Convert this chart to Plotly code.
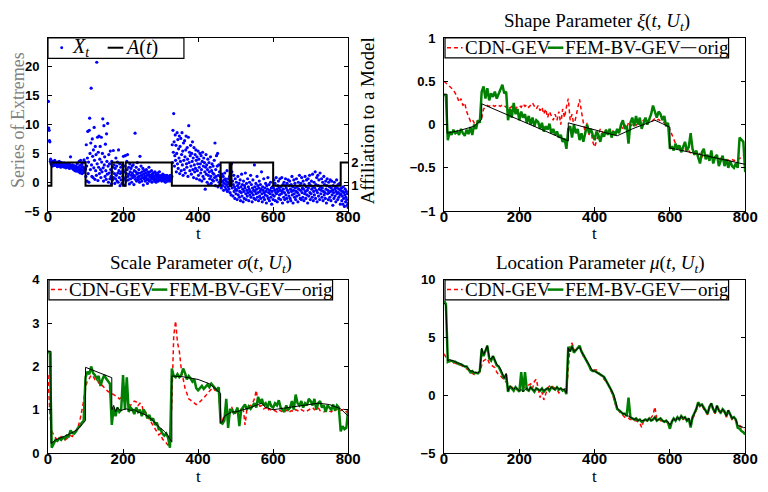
import plotly.graph_objects as go

W, H = 768, 492

# ---------------------------------------------------------------- data
# time index of the extremes series (1..800)
T_SERIES = list(range(1, 801))

# series of extremes X_t
X_T = [
    14.0, 9.4, 9.0, 7.2, 7.0, 3.6, 4.0, 3.2, 3.5, 3.0, 3.4, 2.8, 3.6, 3.1, 3.3, 2.9, 3.5, 3.8, 3.2, 3.0,
    3.4, 2.9, 3.1, 3.3, 2.7, 3.5, 3.0, 2.8, 3.2, 3.6, 3.0, 2.9, 3.3, 2.6, 3.1, 3.4, 2.8, 3.0, 3.2, 2.7,
    3.1, 2.9, 3.3, 2.6, 3.0, 2.8, 3.2, 2.5, 2.9, 3.1, 2.7, 3.0, 2.6, 2.9, 2.8, 3.2, 2.4, 2.7, 3.0, 4.4,
    2.8, 2.5, 2.9, 2.6, 3.0, 2.4, 2.7, 2.2, 2.9, 2.5, 2.6, 2.0, 2.8, 2.3, 2.7, 1.9, 2.5, 3.2, 2.4, 2.1,
    2.6, 1.8, 3.6, 2.2, 2.9, 1.6, 3.8, 2.4, 2.0, 3.1, 1.5, 2.7, 3.4, 2.2, 1.7, 3.9, 2.5, 2.0, 3.5, 2.3,
    1.0, 6.5, 2.8, 0.2, 4.2, 8.8, 1.5, 3.5, 0.0, 9.0, 11.1, 5.0, 2.2, 6.8, 16.3, 3.0, 1.0, 7.5, 4.5, 0.8,
    5.6, 2.5, 9.5, 3.8, 0.5, 6.2, 2.0, 4.8, 1.2, 20.8, 3.2, 7.8, 0.3, 5.2, 2.6, 8.0, 1.5, 4.0, 6.2, 2.2,
    0.8, 7.8, 3.5, 1.8, 5.0, 11.0, 2.5, 0.2, 9.8, 3.0, 4.4, 1.0, 6.6, 2.0, 0.5, 8.4, 3.6, 1.4, 10.2, 2.8,
    0.0, 4.8, 1.6, 3.2, 0.6, 5.4, 2.2, 1.0, -0.3, 3.6, 1.8, 0.4, 2.6, 5.5, 0.8, 3.0, 1.5, -0.2, 2.4, 0.6,
    4.2, 1.2, 2.8, 0.2, 3.5, 1.6, 0.0, 5.6, 2.0, 0.8, 3.2, -0.6, 1.5, 2.6, 0.4, 1.8, -0.2, 3.0, 1.0, 2.2,
    4.5, 0.5, 1.8, -0.5, 2.8, 4.6, 0.8, 0.2, 1.5, 3.6, 2.2, 4.8, 1.0, 0.4, 2.6, 1.4, -0.3, 3.2, 1.8, 0.6,
    2.4, 1.2, 0.0, 2.8, 1.6, 0.8, 3.0, 1.2, -0.4, 2.0, 1.0, 8.5, 0.5, 1.8, 2.6, 0.2, 1.4, 3.4, 0.8, 1.6,
    0.4, 2.2, 1.0, 0.0, 4.5, 1.6, 0.6, 2.8, 1.2, 0.2, 1.8, 0.8, 2.4, -0.5, 1.4, 0.6, 2.0, 1.0, 0.2, 1.6,
    0.8, 2.2, 0.4, 1.2, -0.2, 1.8, 0.6, 1.4, 2.6, 0.2, 1.0, 1.8, 0.4, 1.2, 0.8, 2.0, 0.0, 1.4, 0.6, 1.0,
    1.6, 0.4, 1.0, 0.2, 1.8, 0.6, 1.2, 0.0, 1.4, 0.8, 0.4, 1.6, 1.0, 0.2, 1.2, 0.6, 1.8, 0.8, 0.4, 1.0,
    0.6, 1.2, 0.2, 1.0, 0.8, 1.4, 0.4, 0.8, 1.0, 0.2, 1.2, 0.6, 0.0, 1.0, 0.8, 0.4, 1.2, 0.6, 0.2, 0.8,
    0.4, 1.0, 0.6, 0.8, 0.2, 1.2, 0.4, 0.6, 0.8, 1.0, 6.5, 3.4, 9.0, 5.2, 11.9, 7.0, 2.8, 4.6, 8.2, 3.8,
    6.4, 1.8, 5.0, 8.6, 3.2, 7.4, 2.4, 5.8, 4.2, 8.0, 1.5, 6.2, 3.6, 7.6, 2.0, 4.8, 8.6, 3.0, 5.4, 1.2,
    6.8, 3.8, 2.2, 7.2, 4.4, 1.6, 5.6, 8.0, 3.2, 2.6, 6.0, 4.0, 1.0, 7.8, 9.8, 3.4, 5.2, 2.0, 4.6, 6.4,
    2.8, 1.4, 5.0, 3.6, 7.0, 2.2, 4.2, 0.8, 6.0, 3.0, 1.8, 4.8, 2.4, 5.6, 3.8, 0.6, 4.4, 2.0, 3.2, 5.4,
    1.2, 4.0, 2.6, 0.4, 5.0, 3.2, 1.6, 4.6, 2.2, 0.2, 3.6, 5.2, 1.0, 2.8, 4.2, 0.6, 3.4, 1.8, -1.2, 2.6,
    4.8, 1.4, 3.0, 0.0, 2.2, 4.0, 1.2, -0.4, 3.4, 1.8, 0.6, 2.6, 4.4, 1.0, -0.2, 2.0, 3.2, 0.4, 1.6, 2.8,
    0.2, 1.4, 3.8, 0.8, 6.8, -0.6, 2.2, 1.0, 4.6, 0.4, 2.8, 5.0, -0.8, 1.2, 3.0, 0.0, 1.8, -0.4, 1.0, 0.4,
    0.8, -1.0, 0.2, 1.4, -0.6, 0.0, 1.0, -1.4, 0.4, -0.2, 1.6, -0.8, 0.6, -1.2, 0.2, -0.4, 2.0, -1.6, 0.0, -0.8,
    0.6, -1.2, -0.2, 1.0, -1.8, 0.4, -0.6, -2.2, 3.2, 1.8, -1.0, 0.2, -2.4, -0.4, 1.2, -1.6, -0.8, -2.8, 0.6, -1.2,
    -2.0, 0.0, -1.4, -3.0, -0.6, 1.0, -2.2, -1.0, -0.2, -2.6, -1.6, 0.4, -3.2, -0.8, -1.8, 1.4, -2.4, -0.4, -1.2, -3.4,
    0.2, -1.6, -2.8, -0.6, -1.0, 1.6, -2.0, -3.0, -0.2, -1.4, -2.4, 0.6, -1.8, -0.8, -3.2, -1.2, 0.0, -2.2, -1.6, 1.2,
    -2.6, -0.4, -1.8, -3.4, -1.0, 0.4, -2.2, -1.4, -2.8, 3.0, -0.8, -1.6, -3.0, -0.2, -2.0, -1.2, 1.0, -2.6, -0.6, -1.8,
    -3.2, -1.0, 0.2, -2.4, -1.6, -0.4, -2.8, -1.2, 1.8, -2.0, -3.4, -0.8, -1.4, -2.6, 0.6, -1.8, -3.0, -1.0, -2.2, -0.2,
    -1.6, -3.6, -0.6, -2.4, -1.2, 0.8, -2.8, -1.8, -0.4, -3.2, -1.4, -2.0, 0.0, -2.6, -1.0, -3.8, -1.6, -0.8, -2.2, -3.0,
    -1.0, 0.4, -2.4, -1.4, -0.2, -3.2, -1.8, 0.8, -2.0, -1.2, -3.4, -0.6, -1.6, 0.2, -2.8, -1.0, -2.2, 0.6, -1.4, -3.0,
    -0.8, -2.0, 0.8, -1.6, -3.6, -0.4, -1.2, -2.6, 0.0, -1.8, -3.0, -0.6, 0.6, -2.2, -1.0, -2.8, -0.2, -1.4, -3.4, 0.4,
    -1.8, -2.4, -0.6, 0.2, -2.8, -1.2, -3.2, -0.4, -1.6, 1.0, -2.2, -0.8, -3.6, -1.4, 0.4, -2.0, -2.6, -0.2, -1.0, -3.0,
    -1.6, 0.6, -2.4, -0.8, -1.8, -3.4, 0.0, -1.2, -2.2, 1.2, -0.6, -2.8, -1.4, -0.2, -3.0, 0.8, -1.8, -1.0, -2.6, 0.2,
    -1.2, -3.2, -0.4, -2.0, 1.0, -1.6, -2.8, -0.8, 0.4, -2.2, -1.4, -3.6, 0.6, -1.0, -2.4, -0.2, 1.2, -1.8, -3.0, -0.6,
    -2.0, 0.2, -1.2, -2.6, 1.4, -0.8, -3.2, -1.6, 0.0, -2.2, -1.0, 1.8, -2.8, -0.4, -1.4, 0.8, -3.4, -1.8, 1.2, -0.6,
    -2.4, 0.4, -1.2, -3.0, 1.6, -0.8, -2.0, -1.4, 0.6, -2.6, -1.0, 0.0, -3.2, -1.6, 1.0, -2.2, -0.4, -1.8, -2.8, 0.2,
    -1.2, -3.6, -0.6, 0.6, -2.0, -1.4, -3.0, 0.0, -1.8, -0.8, -2.6, 0.4, -1.6, -3.2, -1.0, 0.2, -2.2, -1.4, -4.0, -0.6,
    -1.8, -2.8, 0.0, -1.2, -2.4, -0.8, -3.4, -1.6, 0.4, -2.0, -1.0, -3.0, -0.4, -1.8, -2.6, -1.2, -0.2, -2.2, -3.8, -1.4,
    -2.0, -1.0, -3.2, -2.4, -1.6, -3.8, -0.8, -2.8, -1.8, -4.2, -2.2, -1.2, -3.4, -2.6, -1.6, -3.0, -4.0, -2.0, -3.6, -4.4,
]

# affiliation to a model A(t): switching times and the active model
A_SWITCH = [0, 9, 100, 170, 200, 207, 330, 460, 484, 489, 600, 780, 800]
A_MODEL = [1, 2, 1, 2, 1, 2, 1, 2, 1, 2, 1, 2, 2]

# parameter estimates sampled every 5 time steps (t = 0, 5, ..., 800)
T_EST = list(range(0, 801, 5))

SHAPE_CDN = [
    0.50, 0.48, 0.46, 0.44, 0.42, 0.40, 0.36, 0.32, 0.26, 0.30, 0.22, 0.25, 0.15, 0.10, 0.04, 0.06, 0.02, 0.05, 0.03, 0.06,
    0.08, 0.18, 0.20, 0.22, 0.21, 0.23, 0.22, 0.21, 0.23, 0.22, 0.21, 0.23, 0.22, 0.20, 0.22, 0.19, 0.21, 0.20, 0.18, 0.21,
    0.22, 0.20, 0.24, 0.21, 0.23, 0.20, 0.22, 0.25, 0.21, 0.18, 0.22, 0.16, 0.20, 0.12, 0.18, 0.08, 0.15, 0.10, 0.05, 0.12,
    0.05, 0.15, 0.00, 0.18, 0.08, 0.20, 0.30, 0.05, 0.12, -0.02, 0.08, 0.18, 0.29, 0.15, 0.00, -0.10, 0.02, -0.12, -0.05, -0.20,
    -0.26, -0.18, -0.10, -0.05, -0.08, -0.12, -0.06, -0.10, -0.08, -0.12, -0.06, -0.10, -0.05, -0.08, -0.02, -0.05, 0.00, -0.04, 0.02, -0.02,
    0.00, 0.02, -0.01, 0.03, 0.00, 0.02, 0.05, 0.02, 0.04, 0.06, 0.03, 0.05, 0.07, 0.05, 0.06, 0.04, 0.04, 0.02, 0.00, -0.03,
    -0.06, -0.12, -0.18, -0.22, -0.26, -0.24, -0.28, -0.30, -0.27, -0.32, -0.30, -0.33, -0.28, -0.35, -0.32, -0.36, -0.33, -0.38, -0.34, -0.37,
    -0.35, -0.38, -0.36, -0.40, -0.37, -0.39, -0.41, -0.38, -0.40, -0.42, -0.39, -0.41, -0.43, -0.40, -0.42, -0.40, -0.41, -0.39, -0.38, -0.36,
    -0.35,
]
SHAPE_FEM = [
    0.35, 0.33, -0.18, -0.08, -0.12, -0.06, -0.10, -0.08, -0.12, -0.05, -0.10, -0.13, -0.06, -0.11, -0.03, -0.12, 0.00, -0.05, 0.05, 0.02,
    0.38, 0.44, 0.30, 0.42, 0.28, 0.36, 0.32, 0.38, 0.30, 0.35, 0.42, 0.46, 0.36, 0.38, 0.05, 0.18, 0.08, 0.25, 0.12, 0.18,
    0.05, 0.15, 0.08, 0.12, 0.02, 0.10, 0.00, 0.08, -0.02, 0.05, 0.03, -0.05, 0.02, -0.08, -0.02, -0.06, 0.01, -0.10, -0.05, -0.12,
    -0.08, -0.15, -0.12, -0.20, -0.16, -0.28, -0.05, -0.02, -0.15, 0.00, -0.10, -0.05, -0.18, -0.10, -0.20, -0.08, 0.00, -0.10, -0.05, -0.12,
    -0.18, -0.08, -0.12, -0.20, -0.10, -0.14, -0.06, -0.12, -0.05, -0.15, -0.08, -0.12, -0.05, -0.10, 0.00, 0.05, -0.05, -0.02, -0.22, 0.02,
    0.08, -0.02, 0.10, 0.00, 0.08, -0.05, 0.02, 0.08, 0.00, 0.05, 0.12, 0.22, 0.15, 0.08, 0.15, 0.12, 0.05, 0.10, -0.02, 0.02,
    -0.28, -0.25, -0.30, -0.22, -0.28, -0.24, -0.32, -0.25, -0.20, -0.30, -0.26, -0.10, -0.28, -0.35, -0.30, -0.38, -0.45, -0.32, -0.28, -0.40,
    -0.35, -0.42, -0.30, -0.45, -0.38, -0.35, -0.48, -0.42, -0.36, -0.48, -0.40, -0.50, -0.42, -0.48, -0.50, -0.45, -0.50, -0.15, -0.18, -0.20,
    -0.55,
]
SHAPE_ORIG_T = [0, 8, 8, 40, 80, 100, 100, 330, 330, 460, 500, 530, 560, 580, 600, 600, 800]
SHAPE_ORIG = [0.35, 0.35, -0.10, -0.07, -0.02, 0.06, 0.24, -0.19, 0.02, -0.13, -0.05, 0.00, 0.05, 0.01, -0.03, -0.27, -0.46]

SCALE_CDN = [
    1.80, 0.90, 0.50, 0.42, 0.35, 0.30, 0.32, 0.38, 0.35, 0.30, 0.33, 0.36, 0.40, 0.38, 0.45, 0.50, 0.60, 0.75, 0.95, 1.20,
    1.50, 1.68, 1.72, 1.80, 1.78, 1.70, 1.72, 1.62, 1.60, 1.55, 1.50, 1.45, 1.42, 1.40, 1.38, 1.35, 1.32, 1.30, 1.25, 1.28,
    1.22, 1.18, 1.15, 1.12, 1.10, 1.15, 1.20, 1.18, 1.10, 1.15, 1.12, 0.92, 0.95, 0.85, 0.78, 0.70, 0.62, 0.55, 0.50, 0.42,
    0.45, 0.32, 0.28, 0.22, 0.18, 0.15, 1.20, 2.70, 3.05, 2.55, 2.35, 1.95, 1.70, 1.50, 1.38, 1.25, 1.22, 1.18, 1.15, 1.12,
    1.14, 1.18, 1.22, 1.28, 1.32, 1.38, 1.42, 1.48, 1.52, 1.45, 1.40, 1.38, 0.80, 0.75, 0.90, 1.00, 0.85, 1.00, 1.05, 0.95,
    0.92, 1.00, 0.95, 1.02, 1.05, 0.65, 1.00, 1.08, 1.10, 1.15, 1.25, 1.45, 1.12, 1.08, 1.10, 1.02, 1.05, 0.98, 1.02, 0.98,
    1.00, 0.98, 0.95, 1.00, 0.97, 0.95, 1.00, 0.98, 1.02, 0.96, 0.98, 0.95, 1.00, 0.98, 0.96, 1.00, 0.98, 0.95, 0.97, 1.00,
    1.02, 1.05, 1.00, 1.03, 1.05, 0.98, 0.96, 0.95, 1.00, 0.98, 0.97, 0.95, 1.00, 0.98, 1.02, 0.97, 0.98, 1.00, 1.02, 0.95,
    0.98,
]
SCALE_FEM = [
    2.36, 2.30, 0.12, 0.22, 0.30, 0.28, 0.34, 0.30, 0.36, 0.33, 0.40, 0.38, 0.52, 0.46, 0.45, 0.50, 0.58, 0.62, 0.70, 0.74,
    1.75, 1.88, 1.82, 2.00, 1.85, 1.80, 1.72, 1.78, 1.55, 1.70, 1.80, 1.72, 1.65, 1.60, 0.65, 1.05, 0.85, 1.05, 0.95, 1.00,
    1.80, 1.00, 1.75, 0.95, 1.05, 1.00, 0.90, 1.05, 0.95, 1.00, 0.85, 1.00, 0.92, 0.80, 0.88, 0.75, 0.80, 0.65, 0.70, 0.55,
    0.55, 0.45, 0.40, 0.45, 0.35, 0.12, 1.95, 1.78, 1.75, 1.82, 1.75, 1.80, 1.95, 1.85, 1.70, 1.78, 1.72, 1.65, 1.70, 1.50,
    1.45, 1.50, 1.55, 1.48, 1.52, 1.58, 1.52, 1.60, 1.55, 1.50, 1.45, 1.52, 0.70, 0.68, 0.75, 1.25, 0.58, 1.00, 1.00, 0.92,
    0.95, 1.05, 0.62, 1.00, 1.05, 1.12, 1.00, 1.08, 1.02, 1.10, 1.15, 1.05, 1.30, 1.15, 1.25, 1.10, 1.15, 1.05, 1.20, 1.08,
    1.05, 1.15, 1.10, 1.22, 1.05, 1.00, 0.95, 1.10, 1.00, 1.05, 1.20, 1.00, 1.35, 1.15, 1.10, 1.20, 1.05, 1.15, 1.10, 1.25,
    1.20, 1.10, 1.25, 1.00, 1.15, 1.20, 1.05, 1.10, 0.95, 1.10, 1.05, 1.00, 1.12, 0.98, 1.10, 1.05, 0.50, 0.62, 0.55, 0.58,
    1.00,
]
SCALE_ORIG_T = [0, 8, 8, 20, 40, 60, 80, 100, 100, 170,
                170, 175, 180, 185, 190, 195, 200, 210, 220, 230,
                240, 250, 260, 270, 280, 290, 300, 310, 320, 330,
                330, 360, 400, 430, 460, 460, 465, 470, 480, 490,
                500, 520, 540, 560, 570, 580, 600, 640, 680, 720,
                750, 780, 800]
SCALE_ORIG = [2.35, 2.35, 0.22, 0.30, 0.37, 0.45, 0.55, 0.75, 1.98, 1.74,
              1.00, 1.10, 0.95, 1.05, 1.00, 0.98, 1.00, 1.02, 0.98, 1.00,
              0.95, 0.92, 0.88, 0.82, 0.75, 0.65, 0.58, 0.50, 0.40, 0.25,
              1.78, 1.76, 1.70, 1.60, 1.38, 0.70, 0.72, 0.85, 0.90, 0.95,
              0.95, 1.00, 1.05, 1.12, 1.15, 1.05, 1.00, 1.05, 1.10, 1.15,
              1.12, 1.02, 0.85]

LOC_CDN = [
    3.6, 3.3, 3.0, 2.9, 2.9, 2.8, 2.8, 2.7, 2.6, 2.6, 2.5, 2.4, 2.3, 2.2, 2.0, 1.9, 1.8, 1.8, 1.9, 2.0,
    2.6, 3.0, 3.1, 3.2, 2.8, 2.6, 2.5, 2.4, 2.0, 1.8, 1.7, 1.5, 1.3, 1.2, 1.0, 0.8, 0.7, 0.6, 0.5, 0.5,
    0.4, 0.5, 0.6, 0.7, 0.8, 0.9, 1.0, 0.6, 1.2, 1.4, 0.5, -0.2, 0.3, -0.4, 0.1, 0.6, 0.8, 0.9, 0.7, 0.6,
    0.5, 0.2, 0.3, 0.5, 0.4, 0.2, 2.5, 4.4, 4.5, 4.0, 3.9, 4.0, 4.2, 3.7, 3.4, 3.2, 2.9, 2.5, 2.3, 2.2,
    2.2, 2.2, 2.0, 1.8, 1.7, 1.5, 1.2, 1.0, 0.7, 0.3, -0.2, -0.8, -1.0, -1.4, -1.6, -1.8, -1.9, -2.0, -2.0, -2.1,
    -2.1, -2.2, -2.2, -2.3, -2.4, -2.8, -2.2, -2.3, -2.1, -2.2, -2.0, -1.7, -1.0, -2.0, -2.1, -2.2, -2.2, -2.3, -2.3, -2.4,
    -2.5, -2.3, -2.1, -2.2, -2.0, -2.1, -1.9, -2.1, -2.0, -2.2, -2.1, -2.5, -2.0, -1.7, -1.3, -0.8, -1.0, -0.9, -1.2, -1.4,
    -1.7, -1.1, -0.8, -1.3, -1.6, -1.0, -1.4, -1.6, -1.3, -1.5, -1.9, -1.4, -1.7, -2.1, -2.0, -2.2, -2.5, -2.7, -2.8, -2.9,
    -3.0,
]
LOC_FEM = [
    8.2, 7.9, 2.9, 3.0, 3.0, 2.9, 2.9, 2.8, 2.7, 2.7, 2.6, 2.5, 2.5, 2.3, 2.0, 2.1, 1.9, 1.95, 1.9, 2.1,
    4.0, 3.4, 3.9, 4.3, 3.2, 3.0, 3.4, 2.9, 2.6, 2.5, 2.2, 1.8, 1.4, 1.8, 0.3, 0.8, 0.6, 0.4, 0.7, 0.5,
    0.3, 2.0, 0.3, 2.0, 0.5, 0.4, 0.7, 0.5, 0.3, 0.6, 0.5, 0.4, 0.6, 0.3, 0.5, 0.6, 0.4, 0.7, 0.6, 0.5,
    0.7, 0.5, 0.6, 0.4, 0.5, 0.1, 4.2, 3.8, 4.3, 3.7, 3.9, 4.1, 4.3, 3.8, 3.5, 3.2, 3.0, 2.6, 2.2, 2.1,
    2.1, 2.0, 1.9, 1.8, 1.7, 1.6, 1.3, 1.0, 0.8, 0.4, 0.0, -0.5, -1.2, -1.3, -1.5, -1.6, -1.6, -1.8, -0.2, -1.9,
    -2.0, -2.1, -2.0, -2.2, -2.1, -2.3, -2.2, -2.1, -2.2, -2.0, -2.2, -2.1, -1.9, -2.2, -2.1, -2.0, -2.2, -2.3, -2.2, -2.4,
    -2.9, -2.3, -2.0, -2.2, -1.9, -2.1, -1.8, -2.0, -1.9, -2.2, -2.0, -2.8, -1.9, -1.6, -1.2, -0.6, -0.9, -0.8, -1.1, -1.3,
    -1.6, -1.0, -0.7, -1.2, -1.5, -0.9, -1.3, -1.5, -1.2, -1.4, -1.8, -1.3, -1.6, -2.0, -1.9, -2.1, -2.8, -2.9, -3.1, -3.2,
    -3.4,
]
LOC_ORIG = [
    8.0, 7.8, 3.0, 3.1, 3.0, 3.0, 2.9, 2.8, 2.8, 2.7, 2.6, 2.5, 2.5, 2.3, 2.1, 2.1, 2.0, 2.0, 1.9, 2.1,
    4.1, 3.5, 4.0, 4.3, 3.3, 3.1, 3.4, 3.0, 2.7, 2.5, 2.3, 1.9, 1.5, 1.9, 0.4, 0.8, 0.6, 0.5, 0.7, 0.5,
    0.4, 0.5, 0.3, 0.5, 0.6, 0.4, 0.7, 0.5, 0.4, 0.6, 0.5, 0.4, 0.6, 0.4, 0.5, 0.6, 0.5, 0.7, 0.6, 0.5,
    0.7, 0.5, 0.6, 0.5, 0.5, 0.2, 4.1, 3.8, 4.2, 3.8, 3.9, 4.1, 4.2, 3.8, 3.5, 3.3, 3.0, 2.6, 2.3, 2.1,
    2.1, 2.0, 1.9, 1.8, 1.7, 1.6, 1.3, 1.0, 0.8, 0.4, 0.1, -0.4, -1.1, -1.3, -1.5, -1.6, -1.6, -1.8, -1.8, -1.9,
    -2.0, -2.1, -2.0, -2.2, -2.1, -2.2, -2.2, -2.1, -2.2, -2.0, -2.2, -2.1, -1.9, -2.2, -2.1, -2.0, -2.2, -2.3, -2.2, -2.3,
    -2.6, -2.3, -2.0, -2.2, -1.9, -2.1, -1.8, -2.0, -1.9, -2.2, -2.0, -2.6, -1.9, -1.6, -1.2, -0.7, -0.9, -0.8, -1.1, -1.3,
    -1.6, -1.0, -0.7, -1.2, -1.5, -0.9, -1.3, -1.5, -1.2, -1.4, -1.8, -1.3, -1.6, -2.0, -1.9, -2.1, -2.6, -2.7, -2.7, -2.8,
    -2.8,
]

for arr in (SHAPE_CDN, SHAPE_FEM, SCALE_CDN, SCALE_FEM, LOC_CDN, LOC_FEM, LOC_ORIG):
    assert len(arr) == len(T_EST), len(arr)
assert len(X_T) == len(T_SERIES), len(X_T)

SERIES_NAMES = ["CDN-GEV", "FEM-BV-GEV", "orig"]

# ---------------------------------------------------------------- styling
RED, GREEN, BLUE = "#ff0000", "#008000", "#0000ff"
SERIF = "Liberation Serif"
XTICKFONT = dict(family="Liberation Sans", size=15, color="black", weight="bold")
YTICKFONT = dict(family="Liberation Sans", size=13, color="black", weight="bold")


def px(x):
    return x / W


def py(y):
    return 1 - y / H


# panel rectangles in pixels: (left, right, top, bottom)
PANELS = {
    "tl": (45, 352, 32, 210.5),
    "tr": (450, 758, 32, 210.5),
    "bl": (45, 352, 281.5, 460),
    "br": (450, 758, 281.5, 460),
}

fig = go.Figure()

# top-left: extremes and model affiliation
fig.add_trace(go.Scatter(x=T_SERIES, y=X_T, mode="markers",
                         marker=dict(color=BLUE, size=3.2, line=dict(width=0)),
                         xaxis="x", yaxis="y", showlegend=False))
fig.add_trace(go.Scatter(x=A_SWITCH, y=A_MODEL, mode="lines",
                         line=dict(color="black", width=2, shape="hv"),
                         xaxis="x", yaxis="y5", showlegend=False))


def add_estimates(xa, ya, cdn, fem, orig_t, orig):
    fig.add_trace(go.Scatter(x=T_EST, y=cdn, mode="lines", name=SERIES_NAMES[0],
                             line=dict(color=RED, width=1.5, dash="4px,3px"),
                             xaxis=xa, yaxis=ya, showlegend=False))
    fig.add_trace(go.Scatter(x=T_EST, y=fem, mode="lines", name=SERIES_NAMES[1],
                             line=dict(color=GREEN, width=2.5),
                             xaxis=xa, yaxis=ya, showlegend=False))
    fig.add_trace(go.Scatter(x=orig_t, y=orig, mode="lines", name=SERIES_NAMES[2],
                             line=dict(color="black", width=1),
                             xaxis=xa, yaxis=ya, showlegend=False))


add_estimates("x2", "y2", SHAPE_CDN, SHAPE_FEM, SHAPE_ORIG_T, SHAPE_ORIG)
add_estimates("x3", "y3", SCALE_CDN, SCALE_FEM, SCALE_ORIG_T, SCALE_ORIG)
add_estimates("x4", "y4", LOC_CDN, LOC_FEM, T_EST, LOC_ORIG)

COMMON = dict(showline=True, linecolor="black", linewidth=1, mirror="ticks",
              ticks="inside", ticklen=4, tickcolor="black", showgrid=False,
              zeroline=False)


def xaxis(panel, anchor):
    l, r, t, b = PANELS[panel]
    return dict(domain=[px(l), px(r)], anchor=anchor, range=[0, 800],
                tickvals=[0, 200, 400, 600, 800], ticklabelstandoff=-8,
                tickfont=XTICKFONT, **COMMON)


def yaxis(panel, anchor, rng, vals):
    l, r, t, b = PANELS[panel]
    return dict(domain=[py(b), py(t)], anchor=anchor, range=rng,
                tickvals=vals, ticklabelstandoff=5, tickfont=YTICKFONT, **COMMON)


layout = dict(
    width=W, height=H, margin=dict(l=0, r=0, t=0, b=0),
    paper_bgcolor="white", plot_bgcolor="white", showlegend=False,
    xaxis=xaxis("tl", "y"),
    yaxis=yaxis("tl", "x", [-5, 25], [-5, 0, 5, 10, 15, 20]),
    xaxis2=xaxis("tr", "y2"),
    yaxis2=yaxis("tr", "x2", [-1, 1], [-1, -0.5, 0, 0.5, 1]),
    xaxis3=xaxis("bl", "y3"),
    yaxis3=yaxis("bl", "x3", [0, 4], [0, 1, 2, 3, 4]),
    xaxis4=xaxis("br", "y4"),
    yaxis4=yaxis("br", "x4", [-5, 10], [-5, 0, 5, 10]),
    yaxis5=dict(overlaying="y", anchor="x", side="right", range=[-0.083, 7.333],
                tickvals=[1, 2], ticks="inside", ticklen=4, tickcolor="black",
                showline=False, showgrid=False, zeroline=False, tickfont=YTICKFONT,
                ticklabelstandoff=2),
)
fig.update_layout(**layout)

shapes, annotations = [], []


def text(x, y, s, size=19, color="black", xanchor="center", angle=0):
    annotations.append(dict(x=px(x), y=py(y), xref="paper", yref="paper", text=s,
                            showarrow=False, xanchor=xanchor, yanchor="middle",
                            textangle=angle, borderpad=0,
                            font=dict(family=SERIF, size=size, color=color)))


def box(l, r, t, b):
    shapes.append(dict(type="rect", xref="paper", yref="paper", x0=px(l), x1=px(r),
                       y0=py(b), y1=py(t), fillcolor="white",
                       line=dict(color="black", width=1.2), layer="above"))


def sample(x0, x1, y, color, width, dash="solid"):
    shapes.append(dict(type="line", xref="paper", yref="paper", x0=px(x0), x1=px(x1),
                       y0=py(y), y1=py(y), line=dict(color=color, width=width, dash=dash),
                       layer="above"))


# legend of the extremes panel
box(45, 184, 32, 53)
shapes.append(dict(type="circle", xref="paper", yref="paper", x0=px(57.5), x1=px(60.5),
                   y0=py(43.5), y1=py(40.5), fillcolor=BLUE, line=dict(width=0),
                   layer="above"))
text(69, 42, "<i>X</i><sub><i>t</i></sub>", size=20, xanchor="left")
sample(106, 122, 42, "black", 2)
text(123, 42, "<i>A</i>(<i>t</i>)", size=20, xanchor="left")

# legends of the parameter panels
for left, top in ((451, 32), (46, 281.5), (451, 281.5)):
    yc = top + 10
    box(left, left + 290, top, top + 20.5)
    sample(left + 2, left + 18, yc, RED, 1.5, "4px,3px")
    text(left + 19, yc, SERIES_NAMES[0], xanchor="left")
    sample(left + 105, left + 121, yc, GREEN, 2.5)
    text(left + 122, yc, SERIES_NAMES[1], xanchor="left")
    sample(left + 241, left + 257, yc, "black", 1)
    text(left + 258, yc, SERIES_NAMES[2], xanchor="left")

# panel titles
text(606, 15, "Shape Parameter <i>ξ</i>(<i>t</i>, <i>U</i><sub><i>t</i></sub>)")
text(201, 265, "Scale Parameter <i>σ</i>(<i>t</i>, <i>U</i><sub><i>t</i></sub>)")
text(609, 265, "Location Parameter <i>μ</i>(<i>t</i>, <i>U</i><sub><i>t</i></sub>)")

# axis titles
for cx, cy in ((199, 234), (604, 234), (199, 484), (604, 484)):
    text(cx, cy, "t", size=17)
text(15, 117, "Series of Extremes", size=18, color="#808080", angle=-90)
text(372, 117, "Affiliation to a Model", angle=-90)

fig.update_layout(shapes=shapes, annotations=annotations)
fig.write_html("out.html")
